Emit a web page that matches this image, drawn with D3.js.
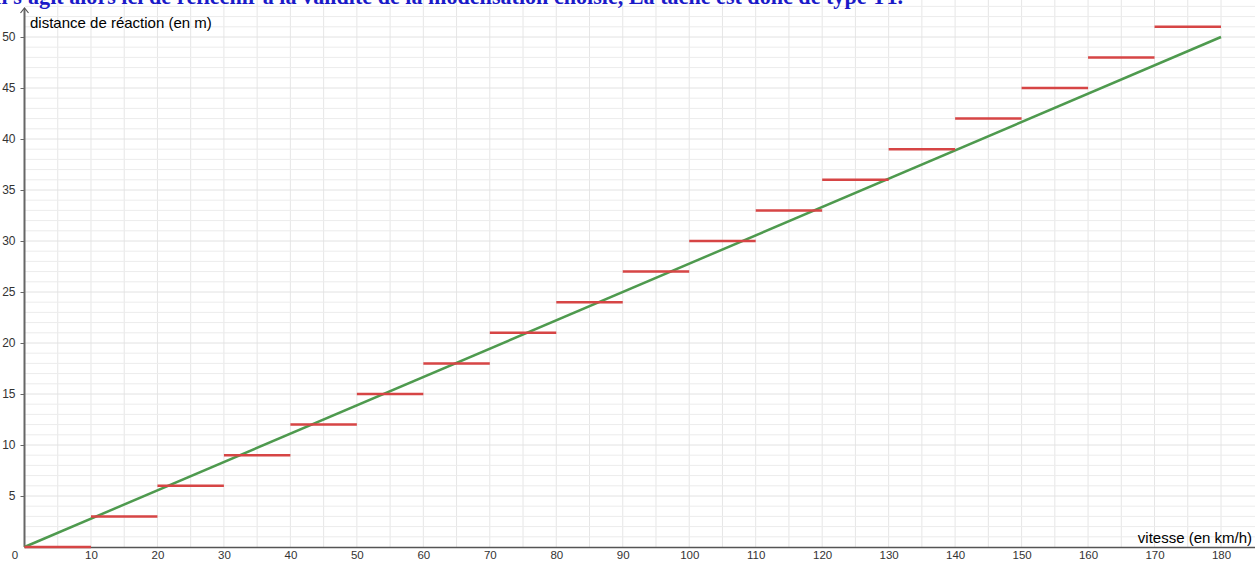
<!DOCTYPE html>
<html>
<head>
<meta charset="utf-8">
<script src="https://cdn.jsdelivr.net/npm/d3@7"></script>
<style>
  body { margin: 0; background: #fff; }
  svg { display: block; font-family: "Liberation Sans", Arial, sans-serif; }
</style>
</head>
<body>
<div id="chart"></div>
<script>
let svgWidth = 1255;
let svgHeight = 563;

// Data
let stepStarts = [0, 10, 20, 30, 40, 50, 60, 70, 80, 90, 100, 110, 120, 130, 140, 150, 160, 170];
let stepEnds = [10, 20, 30, 40, 50, 60, 70, 80, 90, 100, 110, 120, 130, 140, 150, 160, 170, 180];
let stepValues = [0, 3, 6, 9, 12, 15, 18, 21, 24, 27, 30, 33, 36, 39, 42, 45, 48, 51];
let lineX = [0, 180];
let lineY = [0, 50];
let xTicks = [0, 10, 20, 30, 40, 50, 60, 70, 80, 90, 100, 110, 120, 130, 140, 150, 160, 170, 180];
let yTicks = [5, 10, 15, 20, 25, 30, 35, 40, 45, 50];

let svg = d3.select("#chart").append("svg").attr("width", svgWidth).attr("height", svgHeight);

let x = d3.scaleLinear().domain([0, 180]).range([24.5, 1221]);
let y = d3.scaleLinear().domain([0, 50]).range([547, 37]);

// Grid
let grid = svg.append("g");
grid.selectAll("line.v")
  .data(d3.range(5, 185, 5))
  .enter().append("line")
  .attr("x1", d => x(d)).attr("x2", d => x(d))
  .attr("y1", 0).attr("y2", 547)
  .attr("stroke", "#e6e6e6").attr("stroke-width", 1);
grid.selectAll("line.h")
  .data(d3.range(1, 54, 1))
  .enter().append("line")
  .attr("x1", 25).attr("x2", svgWidth)
  .attr("y1", d => y(d)).attr("y2", d => y(d))
  .attr("stroke", d => d % 5 === 0 ? "#e2e2e2" : "#ececec").attr("stroke-width", 1);

// Axes
let xAxis = svg.append("g")
  .attr("transform", `translate(0, 547)`)
  .call(d3.axisBottom(x).tickValues(xTicks).tickSize(0).tickPadding(4));
xAxis.select(".domain").remove();
xAxis.selectAll("text").attr("font-size", 11.5).attr("fill", "#333").attr("font-family", "Liberation Sans, Arial");
xAxis.selectAll(".tick").filter(d => d === 0).select("text").attr("dx", -10);

let yAxis = svg.append("g")
  .attr("transform", `translate(24.5, 0)`)
  .call(d3.axisLeft(y).tickValues(yTicks).tickSize(4).tickPadding(5));
yAxis.select(".domain").remove();
yAxis.selectAll("line").attr("stroke", "#666");
yAxis.selectAll("text").attr("font-size", 12).attr("fill", "#333").attr("font-family", "Liberation Sans, Arial");

svg.append("line")
  .attr("x1", 24.5).attr("x2", svgWidth).attr("y1", 547.5).attr("y2", 547.5)
  .attr("stroke", "#555").attr("stroke-width", 1.5);
svg.append("line")
  .attr("x1", 24.5).attr("x2", 24.5).attr("y1", 547).attr("y2", 9)
  .attr("stroke", "#666").attr("stroke-width", 2);
svg.append("path")
  .attr("d", "M20.5,13 L24.5,8 L28.5,13")
  .attr("fill", "none").attr("stroke", "#555").attr("stroke-width", 1.2);

// Axis labels
svg.append("text")
  .attr("x", 30).attr("y", 28)
  .attr("font-size", 15).attr("fill", "#000")
  .text("distance de réaction (en m)");
svg.append("text")
  .attr("x", 1252).attr("y", 543)
  .attr("text-anchor", "end")
  .attr("font-size", 15).attr("fill", "#000")
  .text("vitesse (en km/h)");

// Model line
svg.append("line")
  .attr("x1", x(lineX[0])).attr("y1", y(lineY[0]))
  .attr("x2", x(lineX[1])).attr("y2", y(lineY[1]))
  .attr("stroke", "#4e9a4e").attr("stroke-width", 2.5);

// Steps
svg.selectAll("line.step")
  .data(stepValues)
  .enter().append("line")
  .attr("class", "step")
  .attr("x1", (d, i) => x(stepStarts[i]))
  .attr("x2", (d, i) => x(stepEnds[i]))
  .attr("y1", d => y(d)).attr("y2", d => y(d))
  .attr("stroke", "#d64545").attr("stroke-width", 2.5);

// Cut-off sentence at top
svg.append("text")
  .attr("x", -7).attr("y", 4)
  .attr("font-family", "Liberation Serif, Times New Roman, serif")
  .attr("font-size", 24).attr("font-weight", "bold")
  .attr("fill", "#1a1ac8")
  .attr("textLength", 910).attr("lengthAdjust", "spacingAndGlyphs")
  .text("Il s'agit alors ici de réfléchir à la validité de la modélisation choisie, La tâche est donc de type T1.");
</script>
</body>
</html>
